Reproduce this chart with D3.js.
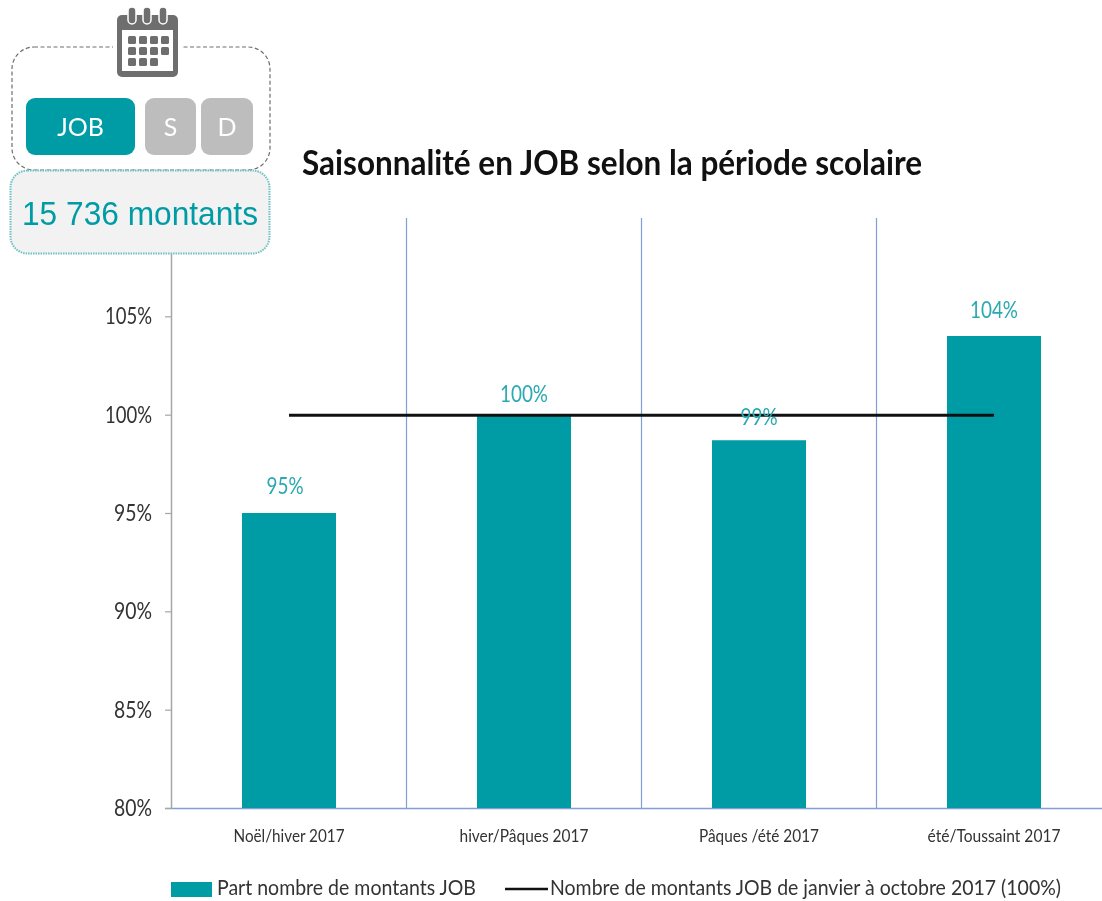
<!DOCTYPE html>
<html lang="fr">
<head>
<meta charset="utf-8">
<title>Saisonnalité en JOB</title>
<script src="https://cdn.jsdelivr.net/npm/d3@7"></script>
<style>
  html, body { margin: 0; padding: 0; background: #fff; overflow: hidden; }
  text { font-family: Lato, "Open Sans", sans-serif; }
  svg { filter: blur(0.4px); }
</style>
</head>
<body>
<div id="chart"></div>
<script>
const periods = ["Noël/hiver 2017", "hiver/Pâques 2017", "Pâques /été 2017", "été/Toussaint 2017"];
const shares = [95, 100, 98.7, 104];
const shareLabels = ["95%", "100%", "99%", "104%"];
const reference = [100, 100, 100, 100];
const yTicks = [80, 85, 90, 95, 100, 105];
const buttons = ["JOB", "S", "D"];

const width = 1102;
const height = 901;
const teal = "#009ca6";

const svg = d3.select("#chart").append("svg")
  .attr("width", width)
  .attr("height", height)
  .style("display", "block");

// set the ranges
const x = d3.scaleBand()
  .domain(periods)
  .range([171.5, 1111.5])
  .paddingInner(0)
  .paddingOuter(0);
const y = d3.scaleLinear()
  .domain([80, 110])
  .range([808, 218]);

const barWidth = x.bandwidth() * 0.4;

// y axis
const yAxis = svg.append("g")
  .attr("transform", "translate(171,0)")
  .call(d3.axisLeft(y).tickValues(yTicks).tickFormat(d => d + "%").tickSize(6).tickPadding(13));
yAxis.select(".domain").attr("stroke", "#a6a6a6").attr("stroke-width", 1.5);
yAxis.selectAll(".tick line").attr("stroke", "#a6a6a6").attr("stroke-width", 1.2);
yAxis.selectAll(".tick text")
  .attr("fill", "#333")
  .style("font-size", "23px")
  .attr("textLength", d => d >= 100 ? 47 : 38)
  .attr("lengthAdjust", "spacingAndGlyphs");

// period dividers, then x axis
svg.append("g").selectAll("line")
  .data(periods.slice(1))
  .enter().append("line")
  .attr("x1", d => x(d))
  .attr("x2", d => x(d))
  .attr("y1", y(110))
  .attr("y2", y(80))
  .attr("stroke", "#7f9fd6")
  .attr("stroke-width", 1.2);

const xAxis = svg.append("g")
  .attr("transform", "translate(0," + y(80) + ")")
  .call(d3.axisBottom(x).tickSize(0).tickPadding(21));
xAxis.select(".domain").attr("stroke", "#7f9fd6").attr("stroke-width", 1.5);
xAxis.selectAll(".tick text")
  .attr("fill", "#333")
  .style("font-size", "18px")
  .attr("textLength", (d, i) => [111, 129, 120, 133][i])
  .attr("lengthAdjust", "spacingAndGlyphs");

// bars
svg.append("g").selectAll("rect")
  .data(shares)
  .enter().append("rect")
  .attr("x", (d, i) => x(periods[i]) + (x.bandwidth() - barWidth) / 2)
  .attr("y", d => y(d))
  .attr("width", barWidth)
  .attr("height", d => y(80) - y(d))
  .attr("fill", teal);

// reference line
const line = d3.line()
  .x((d, i) => x(periods[i]) + x.bandwidth() / 2)
  .y(d => y(d) + 0.5);
svg.append("path")
  .attr("d", line(reference))
  .attr("fill", "none")
  .attr("stroke", "#111")
  .attr("stroke-width", 3);

// value labels, gaps above the bars differ in the original
const labelGaps = [19, 13, 15, 18];
const labelShifts = [-4, 0, 0, 0];
svg.append("g").selectAll("text")
  .data(shares)
  .enter().append("text")
  .attr("x", (d, i) => x(periods[i]) + x.bandwidth() / 2 + labelShifts[i])
  .attr("y", (d, i) => y(d) - labelGaps[i])
  .attr("text-anchor", "middle")
  .attr("fill", "#2aa9b2")
  .style("font-size", "23px")
  .attr("textLength", (d, i) => shareLabels[i].length === 3 ? 37 : 48)
  .attr("lengthAdjust", "spacingAndGlyphs")
  .text((d, i) => shareLabels[i]);

// title
svg.append("text")
  .attr("x", 302)
  .attr("y", 175)
  .attr("fill", "#111")
  .style("font-size", "35px")
  .style("font-weight", 700)
  .attr("textLength", 620)
  .attr("lengthAdjust", "spacingAndGlyphs")
  .text("Saisonnalité en JOB selon la période scolaire");

// legend
svg.append("rect")
  .attr("x", 171).attr("y", 882)
  .attr("width", 41).attr("height", 15)
  .attr("fill", teal);
svg.append("text")
  .attr("x", 217).attr("y", 895)
  .attr("fill", "#333")
  .style("font-size", "21px")
  .attr("textLength", 259)
  .attr("lengthAdjust", "spacingAndGlyphs")
  .text("Part nombre de montants JOB");
svg.append("line")
  .attr("x1", 505).attr("x2", 548)
  .attr("y1", 889).attr("y2", 889)
  .attr("stroke", "#111")
  .attr("stroke-width", 2.5);
svg.append("text")
  .attr("x", 550).attr("y", 895)
  .attr("fill", "#333")
  .style("font-size", "21px")
  .attr("textLength", 511)
  .attr("lengthAdjust", "spacingAndGlyphs")
  .text("Nombre de montants JOB de janvier à octobre 2017 (100%)");

// filter panel at top left
const panel = svg.append("g");

panel.append("rect")
  .attr("x", 12).attr("y", 47)
  .attr("width", 258).attr("height", 123)
  .attr("rx", 22)
  .attr("fill", "#fff")
  .attr("stroke", "#6e6e6e")
  .attr("stroke-width", 1.2)
  .attr("stroke-dasharray", "4 2.5");

// calendar icon sits on a white patch that breaks the dashed border
panel.append("rect")
  .attr("x", 113).attr("y", 40)
  .attr("width", 68).attr("height", 14)
  .attr("fill", "#fff");
const icon = panel.append("g");
icon.append("rect")
  .attr("x", 117).attr("y", 15)
  .attr("width", 61).attr("height", 62)
  .attr("rx", 5)
  .attr("fill", "#6e6e6e");
icon.append("rect")
  .attr("x", 122).attr("y", 30)
  .attr("width", 51).attr("height", 41)
  .attr("fill", "#fff");
icon.selectAll(".ring")
  .data([132, 147, 163])
  .enter().append("rect")
  .attr("class", "ring")
  .attr("x", d => d - 4).attr("y", 7)
  .attr("width", 8).attr("height", 17)
  .attr("rx", 4)
  .attr("fill", "#6e6e6e")
  .attr("stroke", "#fff")
  .attr("stroke-width", 1.5);
const cells = [[0, 0], [1, 0], [2, 0], [3, 0], [0, 1], [1, 1], [2, 1], [3, 1], [0, 2], [1, 2], [2, 2]];
icon.selectAll(".cell")
  .data(cells)
  .enter().append("rect")
  .attr("class", "cell")
  .attr("x", d => 128 + d[0] * 11)
  .attr("y", d => 36 + d[1] * 11)
  .attr("width", 8).attr("height", 8)
  .attr("rx", 1.5)
  .attr("fill", "#6e6e6e");

const buttonBoxes = [[26, 109], [145, 51], [201, 52]];
panel.selectAll(".btn")
  .data(buttons)
  .enter().append("rect")
  .attr("class", "btn")
  .attr("x", (d, i) => buttonBoxes[i][0])
  .attr("y", 98)
  .attr("width", (d, i) => buttonBoxes[i][1])
  .attr("height", 57)
  .attr("rx", 9)
  .attr("fill", (d, i) => i === 0 ? teal : "#bdbdbd");
panel.selectAll(".btn-label")
  .data(buttons)
  .enter().append("text")
  .attr("class", "btn-label")
  .attr("x", (d, i) => buttonBoxes[i][0] + buttonBoxes[i][1] / 2)
  .attr("y", 136)
  .attr("text-anchor", "middle")
  .attr("fill", "#fff")
  .style("font-size", "25px")
  .text(d => d);

panel.append("rect")
  .attr("x", 10.5).attr("y", 170.5)
  .attr("width", 259).attr("height", 83)
  .attr("rx", 17)
  .attr("fill", "#f2f2f2")
  .attr("stroke", "#6cc0c6")
  .attr("stroke-width", 2)
  .attr("stroke-dasharray", "1.5 1");
panel.append("text")
  .attr("x", 140).attr("y", 225)
  .attr("text-anchor", "middle")
  .attr("fill", teal)
  .style("font-family", "'Liberation Sans', Arial, sans-serif")
  .style("font-size", "32.5px")
  .attr("textLength", 236)
  .attr("lengthAdjust", "spacingAndGlyphs")
  .text("15 736 montants");
</script>
</body>
</html>
